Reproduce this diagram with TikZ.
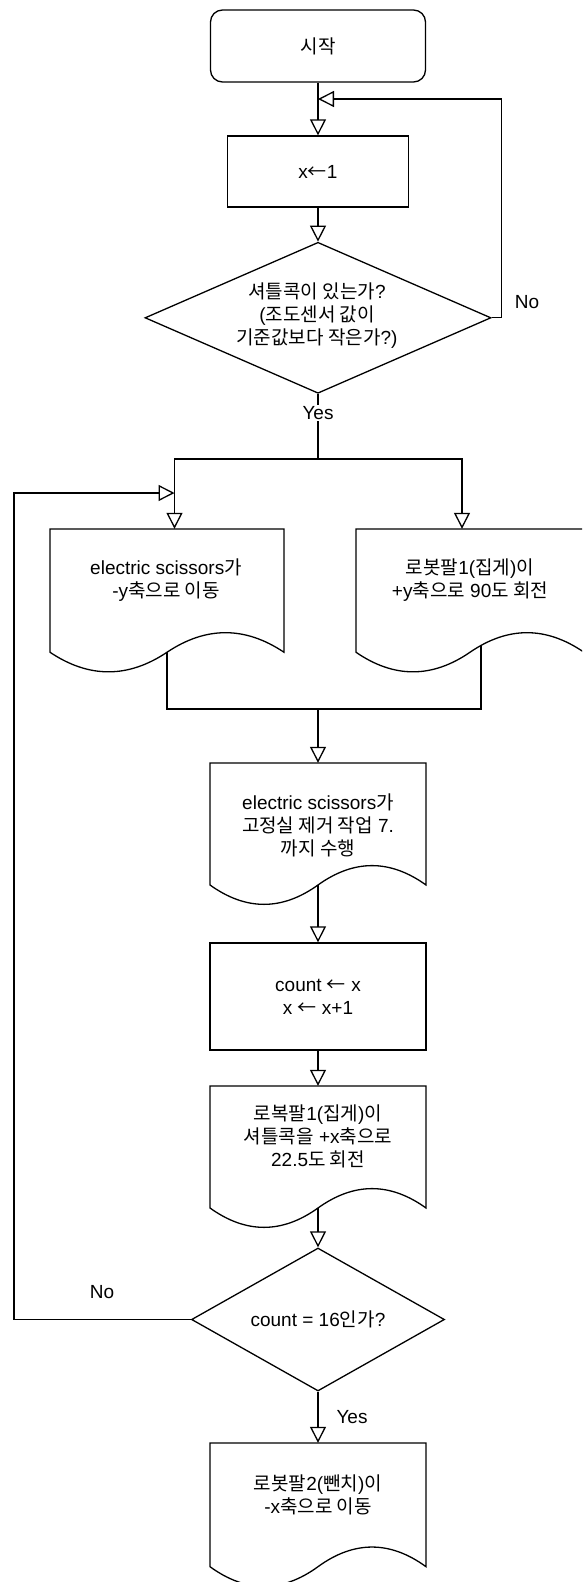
\documentclass[tikz,border=0pt]{standalone}
\usepackage{fontspec}
\setmainfont{Liberation Sans}
\newfontfamily\krfont{Noto Sans CJK KR}
\newcommand{\K}[1]{{\krfont #1}}
\usetikzlibrary{arrows.meta,shapes.geometric,calc}
\newcommand{\docpath}[4]{\draw[line] (#1,#2) -- (#1+#3,#2) -- (#1+#3,#2+0.85*#4) .. controls (#1+#3-#3/6,#2+0.67*#4) and (#1+0.6667*#3,#2+0.67*#4) .. (#1+0.5*#3,#2+0.85*#4) .. controls (#1+#3/3,#2+1.03*#4) and (#1+#3/6,#2+1.03*#4) .. (#1,#2+0.85*#4) -- cycle;}
\begin{document}
\begin{tikzpicture}[x=1pt,y=-1pt,
  line/.style={line width=1.3pt},
  arr/.style={line, -{Triangle[length=16pt,width=16pt,fill=white]}},
  plain/.style={line},
  txt/.style={align=center, inner sep=0pt, font=\fontsize{19}{23}\selectfont},
  procbox/.style={draw, line width=1.3pt, inner sep=0pt, align=center, font=\fontsize{19}{23}\selectfont},
  startbox/.style={procbox, rounded corners=12pt},
  decision/.style={draw, diamond, line width=1.3pt, inner sep=0pt},
  docframe/.style={inner sep=0pt},
  edgelabel/.style={txt, fill=white, inner sep=1pt},
]
\useasboundingbox (0,0) rectangle (582,1582);
\clip (0,0) rectangle (582,1582);

% nodes
\node[startbox, minimum width=215pt, minimum height=72pt] (start) at (318,46) {\K{시작}};
\node[procbox, minimum width=181pt, minimum height=71pt] (x1) at (318,171.5) {x\K{←}1};
\node[decision, minimum width=346pt, minimum height=151pt] (dia1) at (318,317.8) {};
\node[txt] (dia1t) at (317,316) {\K{셔틀콕이 있는가}?\\(\K{조도센서 값이}\\\K{기준값보다 작은가}?)};

\node[docframe, minimum width=234pt, minimum height=145pt] (L) at (167,601.5) {};
\docpath{50}{529}{234}{145}
\node[txt] (Lt) at (166,580) {electric scissors\K{가}\\-y\K{축으로 이동}};

\node[docframe, minimum width=228pt, minimum height=145pt] (R) at (470,601.5) {};
\docpath{356}{529}{228}{145}
\node[txt] (Rt) at (470,580) {\K{로봇팔}1(\K{집게})\K{이}\\+y\K{축으로} 90\K{도 회전}};

\node[docframe, minimum width=216pt, minimum height=143.5pt] (M) at (318,834.75) {};
\docpath{210}{763}{216}{143.5}
\node[txt] (Mt) at (318,825) {electric scissors\K{가}\\\K{고정실 제거 작업} 7.\\\K{까지 수행}};

\node[procbox, minimum width=216pt, minimum height=107pt] (C) at (318,996.5) {count \K{←} x\\x \K{←} x+1};

\node[docframe, minimum width=216pt, minimum height=143.5pt] (D3) at (318,1157.75) {};
\docpath{210}{1086}{216}{143.5}
\node[txt] (D3t) at (318,1136) {\K{로복팔}1(\K{집게})\K{이}\\\K{셔틀콕을} +x\K{축으로}\\22.5\K{도 회전}};

\node[decision, minimum width=253pt, minimum height=143pt] (dia2) at (318,1319.5) {};
\node[txt] (dia2t) at (318,1319) {count = 16\K{인가}?};

\node[docframe, minimum width=216pt, minimum height=145.5pt] (E) at (318,1515.75) {};
\docpath{210}{1443}{216}{145.5}
\node[txt] (Et) at (318,1495) {\K{로봇팔}2(\K{뺀치})\K{이}\\-x\K{축으로 이동}};

% helper coordinates
\coordinate (j1) at (318,99);
\coordinate (s1) at (318,459);
\coordinate (Lb) at (167,652);
\coordinate (Rb) at (481,645.5);
\coordinate (m1) at (318,709);
\coordinate (Mb) at (318,885);
\coordinate (Db) at (318,1208);
\coordinate (lp) at (174.5,493);

% connectors
\draw[arr] (start) -- (x1);
\draw[arr] (x1) -- (dia1);
\draw[arr] (dia1.east) -- ++(9.5,0) |- (j1);
\draw[plain] (dia1.south) -- (s1);
\draw[arr] (s1) -| ([xshift=7.5pt]L.north);
\draw[arr] (s1) -| ([xshift=-8pt]R.north);
\draw[plain] (Lb) |- (m1) -| (Rb);
\draw[arr] (m1) -- (M.north);
\draw[arr] (Mb) -- (C.north);
\draw[arr] (C) -- (D3);
\draw[arr] (Db) -- (dia2.north);
\draw[arr] (dia2.south) -- (E.north);
\draw[arr] (dia2.west) -- ++(-177,0) |- (lp);

% labels
\node[edgelabel] (yes1) at (318,413) {Yes};
\node[txt] (no1) at (527,302) {No};
\node[txt] (no2) at (102,1292) {No};
\node[txt] (yes2) at (352,1417) {Yes};
\end{tikzpicture}
\end{document}
